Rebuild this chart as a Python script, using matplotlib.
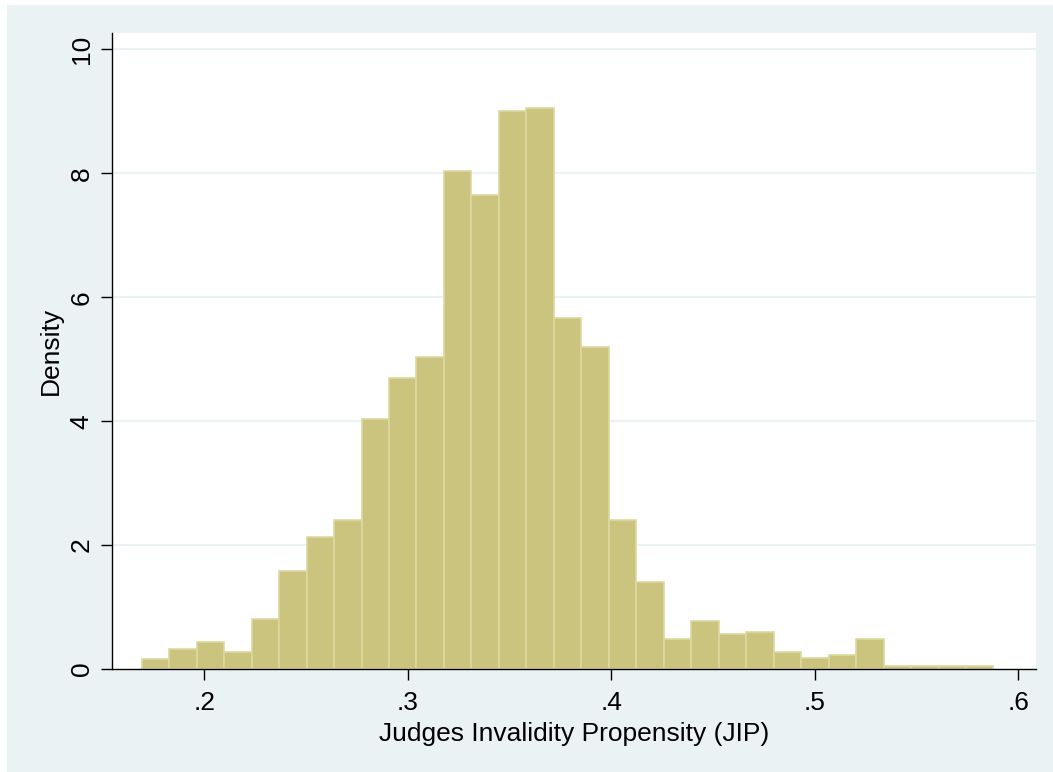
import matplotlib.pyplot as plt
from matplotlib.patches import Rectangle

# histogram of JIP (Stata density scale)
bin_start = 0.16924
bin_width = 0.013501
density = [0.16, 0.32, 0.44, 0.27, 0.81, 1.58, 2.13, 2.40, 4.04, 4.70,
           5.03, 8.04, 7.65, 9.01, 9.06, 5.67, 5.19, 2.40, 1.40, 0.49,
           0.77, 0.56, 0.60, 0.27, 0.17, 0.22, 0.49, 0.054, 0.054, 0.054,
           0.054]
x_ticks = [0.2, 0.3, 0.4, 0.5, 0.6]
x_labels = ['.2', '.3', '.4', '.5', '.6']
y_ticks = [0, 2, 4, 6, 8, 10]

bg = '#EAF2F3'
plt.rcParams['font.family'] = ['Liberation Sans', 'DejaVu Sans']

fig = plt.figure(figsize=(10.53, 7.72), dpi=100, facecolor='white')
# graph region (white strip left/top like the original export)
fig.patches.append(Rectangle((6.7 / 1053, -0.01), 1.01, 1.01 - 5 / 772, transform=fig.transFigure,
                             facecolor=bg, edgecolor='none', zorder=-10))
ax = fig.add_axes([0.1061, 0.1334, 0.9839 - 0.1061, 0.9576 - 0.1334])
ax.set_facecolor('white')

lefts = [bin_start + i * bin_width for i in range(len(density))]
ax.bar(lefts, density, width=bin_width, align='edge', color='#CBC47F',
       edgecolor='#DDD8A0', linewidth=1.2, zorder=2)

ax.set_xlim(0.1545, 0.6087)
ax.set_ylim(0, 10.27)
ax.set_xticks(x_ticks)
ax.set_xticklabels(x_labels)
ax.set_yticks(y_ticks)
ax.set_yticklabels([str(v) for v in y_ticks], rotation=90, va='center')

for v in y_ticks[1:]:
    ax.axhline(v, color=bg, linewidth=1.5, zorder=1)

for s in ['top', 'right']:
    ax.spines[s].set_visible(False)
for s in ['left', 'bottom']:
    ax.spines[s].set_linewidth(1.0)
    ax.spines[s].set_color('black')
ax.tick_params(direction='out', length=8, width=1.0, labelsize=19, pad=7, colors='black')
ax.tick_params(axis='x', pad=8)
ax.tick_params(axis='y', pad=5)

ax.set_xlabel('Judges Invalidity Propensity (JIP)', fontsize=19, labelpad=5)
ax.set_ylabel('Density', fontsize=19, labelpad=5)

fig.savefig('out.png', dpi=100, facecolor='white')
